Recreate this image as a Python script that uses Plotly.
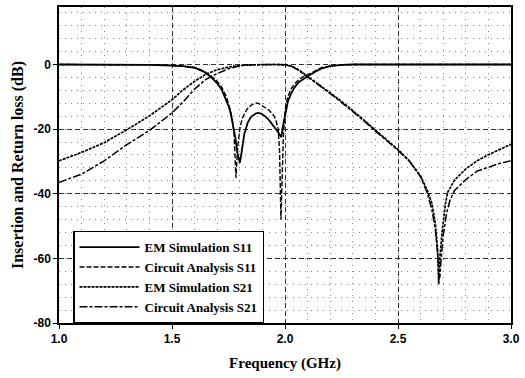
import plotly.graph_objects as go

# ---------------- data ----------------
freq_em_s21 = [1.0, 1.1, 1.2, 1.3, 1.4, 1.5, 1.55, 1.6, 1.65, 1.7, 1.75, 1.8, 1.85, 1.9, 1.95, 2.0,
               2.03, 2.06, 2.1, 2.15, 2.2, 2.25, 2.3, 2.35, 2.4, 2.45, 2.5, 2.55, 2.6, 2.63, 2.65,
               2.665, 2.675, 2.68, 2.685, 2.695, 2.71, 2.72, 2.75, 2.8, 2.85, 2.9, 2.95, 3.0]
em_s21 = [-29.8, -27.2, -24.2, -20.2, -15.9, -10.9, -7.8, -5.2, -3.0, -1.6, -0.8, -0.3, -0.1, 0, 0, -0.1,
          -0.5, -1.6, -3.6, -6.2, -8.8, -11.4, -14.2, -17.2, -20.3, -23.2, -26.3, -29.8, -34.5, -39.0, -43.0,
          -49.0, -57.0, -68.0, -60.0, -52.0, -43.0, -39.5, -35.8, -32.3, -29.8, -27.9, -26.2, -24.7]

freq_ca_s21 = [1.0, 1.1, 1.2, 1.3, 1.4, 1.5, 1.55, 1.6, 1.65, 1.7, 1.75, 1.8, 1.85, 1.9, 1.95, 2.0,
               2.03, 2.06, 2.1, 2.15, 2.2, 2.25, 2.3, 2.35, 2.4, 2.45, 2.5, 2.55, 2.6, 2.63, 2.65,
               2.665, 2.675, 2.685, 2.69, 2.70, 2.715, 2.73, 2.75, 2.8, 2.85, 2.9, 2.95, 3.0]
ca_s21 = [-36.5, -33.9, -29.8, -24.8, -20.4, -15.0, -11.5, -7.6, -4.6, -2.8, -1.3, -0.4, -0.1, 0, 0, -0.1,
          -0.6, -1.8, -3.8, -6.4, -9.0, -11.7, -14.5, -17.5, -20.6, -23.5, -26.6, -29.9, -34.8, -39.8, -45.0,
          -51.0, -58.0, -66.0, -61.0, -53.0, -46.0, -42.0, -39.0, -35.6, -33.0, -31.7, -30.6, -29.8]

freq_em_s11 = [1.0, 1.2, 1.4, 1.5, 1.55, 1.6, 1.64, 1.67, 1.7, 1.72, 1.74, 1.75, 1.76, 1.77, 1.78, 1.79,
               1.80, 1.805, 1.81, 1.82, 1.835, 1.85, 1.87, 1.88, 1.895, 1.91, 1.93, 1.95, 1.965, 1.978,
               1.984, 1.99, 2.0, 2.013, 2.025, 2.04, 2.06, 2.08, 2.1, 2.13, 2.16, 2.2, 2.25, 2.3, 2.5, 2.7, 3.0]
em_s11 = [0, 0, -0.1, -0.3, -0.5, -1.0, -2.2, -3.7, -5.8, -7.8, -10.8, -12.8, -15.2, -18.5, -22.5, -27.5,
          -30.4, -28.5, -25.5, -21.5, -18.0, -16.2, -15.2, -15.0, -15.2, -15.9, -17.3, -19.0, -20.5, -21.8,
          -22.5, -19.5, -15.5, -11.4, -9.3, -7.3, -5.5, -4.5, -3.7, -2.4, -1.3, -0.5, -0.1, 0, 0, 0, 0]

freq_ca_s11 = [1.0, 1.2, 1.4, 1.5, 1.55, 1.6, 1.64, 1.67, 1.7, 1.72, 1.74, 1.75, 1.76, 1.77, 1.775, 1.783,
               1.79, 1.80, 1.81, 1.83, 1.85, 1.865, 1.874, 1.885, 1.9, 1.93, 1.95, 1.96, 1.97, 1.976, 1.982,
               1.988, 1.993, 2.0, 2.01, 2.025, 2.04, 2.06, 2.08, 2.1, 2.13, 2.16, 2.2, 2.25, 2.3, 2.5, 2.7, 3.0]
ca_s11 = [0, 0, -0.1, -0.3, -0.5, -0.9, -2.0, -3.4, -5.2, -7.0, -9.8, -11.8, -14.5, -18.5, -22.0, -35.0,
          -26.0, -20.0, -16.8, -14.0, -12.6, -12.0, -11.9, -12.1, -12.8, -14.2, -15.8, -17.3, -20.0, -27.0, -48.0,
          -33.0, -22.0, -14.5, -10.5, -7.8, -6.2, -4.7, -3.8, -3.2, -2.0, -1.0, -0.4, -0.1, 0, 0, 0, 0]

series_names = ["EM Simulation S11", "Circuit Analysis S11", "EM Simulation S21", "Circuit Analysis S21"]
x_ticks = [1.0, 1.5, 2.0, 2.5, 3.0]
x_tick_labels = ["1.0", "1.5", "2.0", "2.5", "3.0"]
y_ticks = [0, -20, -40, -60, -80]
y_tick_labels = ["0", "-20", "-40", "-60", "-80"]

# ---------------- figure ----------------
fig = go.Figure()
styles = [
    dict(color="black", width=1.8, dash="solid"),
    dict(color="black", width=1.4, dash="5px,2px"),
    dict(color="black", width=1.7, dash="3px,1px"),
    dict(color="black", width=1.5, dash="8px,2px,3px,2px"),
]
data = [(freq_em_s11, em_s11), (freq_ca_s11, ca_s11), (freq_em_s21, em_s21), (freq_ca_s21, ca_s21)]
for (fx, fy), name, st in zip(data, series_names, styles):
    fig.add_trace(go.Scatter(x=fx, y=fy, mode="lines", name=name, line=st))

axis_common = dict(
    showline=True, linecolor="black", linewidth=1.5, mirror=True,
    ticks="outside", ticklen=4, tickcolor="black",
    showgrid=True, gridcolor="#333", gridwidth=1, griddash="5px,3px",
    zeroline=False,
    tickfont=dict(family="Liberation Sans", size=12, color="black", weight="bold"),
)

fig.update_xaxes(
    range=[1.0, 3.0], tickvals=x_ticks, ticktext=x_tick_labels,
    minor=dict(dtick=0.1, showgrid=True, gridcolor="#888", gridwidth=1, griddash="1px,5px"),
    title=dict(text="Frequency (GHz)", standoff=12,
               font=dict(family="Liberation Serif", size=15, color="black", weight="bold")),
    **axis_common,
)
fig.update_yaxes(
    range=[-80, 17.8], tickvals=y_ticks, ticktext=y_tick_labels,
    minor=dict(dtick=4, showgrid=True, gridcolor="#888", gridwidth=1, griddash="1px,5px"),
    title=dict(text="Insertion and Return loss (dB)", standoff=6,
               font=dict(family="Liberation Serif", size=16, color="black", weight="bold")),
    **axis_common,
)

fig.update_layout(
    width=525, height=378,
    margin=dict(l=59, r=10, t=5, b=55),
    paper_bgcolor="white", plot_bgcolor="white",
    showlegend=True,
    legend=dict(
        x=0.031, y=0.145, xanchor="left", yanchor="middle",
        bgcolor="white", bordercolor="black", borderwidth=1.5,
        font=dict(family="Liberation Serif", size=13, color="black", weight="bold"),
        itemwidth=60, tracegroupgap=0,
    ),
)

fig.write_html("out.html")
